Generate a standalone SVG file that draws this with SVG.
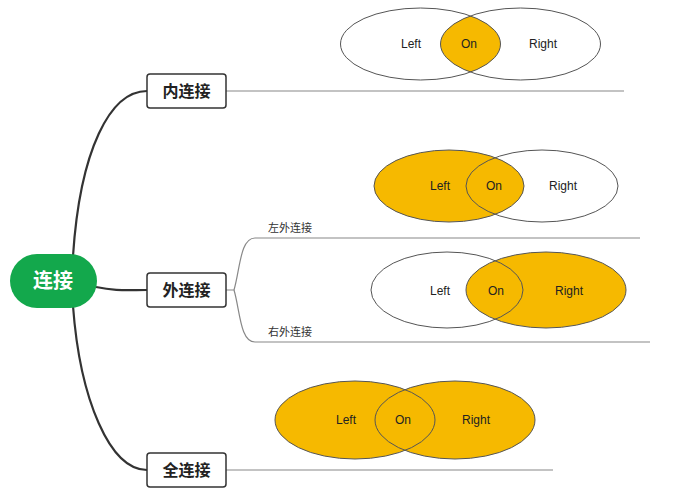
<svg xmlns="http://www.w3.org/2000/svg" width="689" height="500" viewBox="0 0 689 500">
<style>
.br{fill:none;stroke:#333;stroke-width:2.2}
.ln{fill:none;stroke:#888;stroke-width:1.2}
.box{fill:#fff;stroke:#333;stroke-width:1.5}
.bt{font-family:"Noto Sans CJK SC",sans-serif;font-size:16px;font-weight:bold;fill:#222;text-anchor:middle}
.st{font-family:"Noto Sans CJK SC",sans-serif;font-size:11px;fill:#333}
.vt{font-family:"Liberation Sans",Arial,sans-serif;font-size:12px;fill:#222;text-anchor:middle}
.e{fill:none;stroke:#555;stroke-width:1}
.f{fill:#F6B900}
</style>
<defs>
<clipPath id="c1"><ellipse cx="420.5" cy="44" rx="80" ry="36"/></clipPath>
</defs>
<rect width="689" height="500" fill="#fff"/>
<g id="connectors">
<path class="br" d="M73,256 C80,150 110,91 147,91"/>
<path class="br" d="M96,287 C115,291 125,290 147,290"/>
<path class="br" d="M73,306 C80,400 110,470 147,470"/>
<path class="ln" d="M226,91 H624"/>
<path class="ln" d="M226,290 H234 C240,270 240,238 255,238 H640"/>
<path class="ln" d="M234,290 C240,310 240,342 255,342 H650"/>
<path class="ln" d="M226,470 H553"/>
</g>
<g id="root">
<rect x="10" y="254" width="87" height="54" rx="27" fill="#13A84C"/>
<text x="53" y="288" font-family="Noto Sans CJK SC,sans-serif" font-size="20" font-weight="bold" fill="#fff" text-anchor="middle">连接</text>
</g>
<g id="inner"><rect class="box" x="147" y="74" width="79" height="34" rx="3"/><text class="bt" x="186.5" y="97">内连接</text></g>
<g id="outer"><rect class="box" x="147" y="273" width="79" height="34" rx="3"/><text class="bt" x="186.5" y="296">外连接</text></g>
<g id="full"><rect class="box" x="147" y="453" width="79" height="34" rx="3"/><text class="bt" x="186.5" y="476">全连接</text></g>
<g id="left-outer-label"><text class="st" x="268" y="232">左外连接</text></g>
<g id="right-outer-label"><text class="st" x="268" y="336">右外连接</text></g>
<g id="venn-inner">
<ellipse class="f" cx="520.5" cy="44" rx="80" ry="36" clip-path="url(#c1)"/>
<ellipse class="e" cx="420.5" cy="44" rx="80" ry="36"/>
<ellipse class="e" cx="520.5" cy="44" rx="80" ry="36"/>
<text class="vt" x="411" y="48">Left</text><text class="vt" x="469" y="48">On</text><text class="vt" x="543" y="48">Right</text>
</g>
<g id="venn-left">
<ellipse class="f" cx="449" cy="186" rx="75" ry="36"/>
<ellipse class="e" cx="449" cy="186" rx="75" ry="36"/>
<ellipse class="e" cx="542" cy="186" rx="76" ry="36"/>
<text class="vt" x="440" y="190">Left</text><text class="vt" x="494" y="190">On</text><text class="vt" x="563" y="190">Right</text>
</g>
<g id="venn-right">
<ellipse class="f" cx="546" cy="290" rx="80" ry="38"/>
<ellipse class="e" cx="447" cy="290" rx="76" ry="38"/>
<ellipse class="e" cx="546" cy="290" rx="80" ry="38"/>
<text class="vt" x="440" y="295">Left</text><text class="vt" x="496" y="295">On</text><text class="vt" x="569" y="295">Right</text>
</g>
<g id="venn-full">
<ellipse class="f" cx="355" cy="420" rx="80" ry="39"/>
<ellipse class="f" cx="455" cy="420" rx="80" ry="39"/>
<ellipse class="e" cx="355" cy="420" rx="80" ry="39"/>
<ellipse class="e" cx="455" cy="420" rx="80" ry="39"/>
<text class="vt" x="346" y="424">Left</text><text class="vt" x="403" y="424">On</text><text class="vt" x="476" y="424">Right</text>
</g>
</svg>
